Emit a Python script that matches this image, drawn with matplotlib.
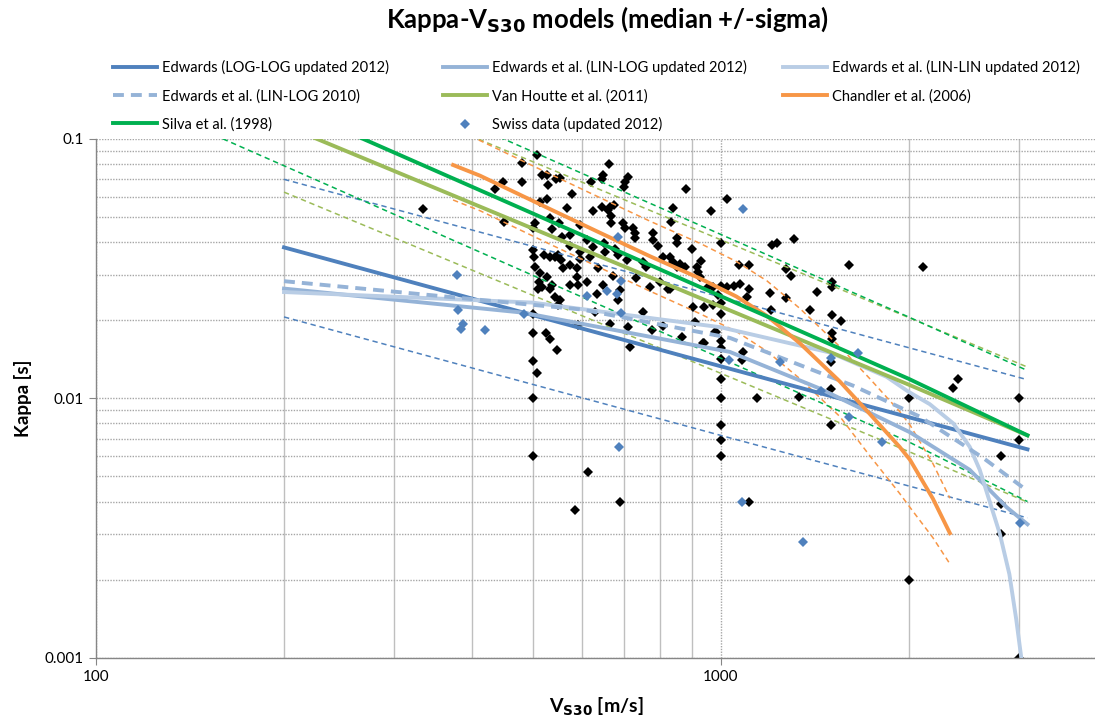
import numpy as np
import matplotlib.pyplot as plt
from matplotlib.ticker import FixedLocator, NullFormatter

plt.rcParams['font.family'] = ['Lato', 'DejaVu Sans']

# ---- model curves (Vs30 [m/s], kappa [s]) ----
# Edwards (LOG-LOG updated 2012): median, +sigma, -sigma
ll_vs = [200, 1000, 3100]
ll_med = [0.0382, 0.0133, 0.00636]
ll_up = [0.0699, 0.0246, 0.0118]
ll_lo = [0.0206, 0.0072, 0.00346]

# Edwards et al. (LIN-LOG updated 2012)
linlog12_vs = [200, 483, 1035, 1443, 2010, 2506, 2872, 3100]
linlog12_k = [0.0265, 0.0214, 0.0151, 0.0109, 0.0074, 0.0053, 0.0038, 0.00327]

# Edwards et al. (LIN-LIN updated 2012)
linlin12_vs = [200, 500, 1000, 1500, 1845, 2000, 2162, 2359, 2506, 2600, 2800, 2900, 2975, 3030]
linlin12_k = [0.0257, 0.0234, 0.0188, 0.0150, 0.0121, 0.0106, 0.0095, 0.0080, 0.0065, 0.0053,
              0.0030, 0.0021, 0.0014, 0.0010]

# Edwards et al. (LIN-LOG 2010)
linlog10_vs = [200, 600, 1035, 1629, 2085, 2631, 3100]
linlog10_k = [0.0283, 0.0220, 0.0171, 0.0112, 0.0085, 0.0059, 0.0044]

# Van Houtte et al. (2011)
vh_vs = [200, 1000, 2000, 3100]
vh_med = [0.113, 0.0226, 0.0113, 0.0072]
vh_up = [0.2045, 0.0409, 0.0205, 0.0132]
vh_lo = [0.0624, 0.0125, 0.00624, 0.00398]

# Chandler et al. (2006)
ch_vs = [373, 412, 533, 641, 771, 927, 1060, 1186, 1340, 1553, 1734, 1935, 2010, 2188, 2329]
ch_med = [0.0794, 0.0722, 0.0537, 0.0435, 0.0353, 0.0290, 0.0247, 0.0208, 0.0163, 0.0116,
          0.0087, 0.0065, 0.0058, 0.0041, 0.00302]
ch_up = [0.1084, 0.0986, 0.0733, 0.0594, 0.0482, 0.0396, 0.0337, 0.0284, 0.0222, 0.0158,
         0.0119, 0.0089, 0.0079, 0.0056, 0.00412]
ch_lo = [0.0582, 0.0529, 0.0393, 0.0319, 0.0259, 0.0212, 0.0181, 0.0152, 0.0119, 0.0085,
         0.0060, 0.0043, 0.0038, 0.0029, 0.0023]

# Silva et al. (1998)
si_vs = [150, 268, 1000, 2000, 3100]
si_med = [0.185, 0.1, 0.0248, 0.0119, 0.0072]
si_up = [0.32, 0.173, 0.0429, 0.0206, 0.0128]
si_lo = [0.107, 0.0578, 0.0143, 0.00680, 0.0040]

# ---- data points ----
swiss_vs = [379, 380, 387, 384, 419, 484, 611, 659, 683, 694, 684, 694, 687, 1087, 1030,
            1245, 1501, 1658, 1446, 1608, 1811, 1081, 1353, 3016]
swiss_k = [0.0300, 0.0219, 0.0194, 0.0185, 0.0183, 0.0211, 0.0248, 0.0259, 0.0252, 0.0214,
           0.0420, 0.0283, 0.0065, 0.0537, 0.0141, 0.0138, 0.0143, 0.0150, 0.0107, 0.0085,
           0.0068, 0.0040, 0.0028, 0.0033]

other_vs = [508, 481, 663, 448, 435, 481, 518, 527, 530, 546, 553, 648, 645, 621, 711, 703, 700,
            880, 1024, 578, 527, 514, 568, 625, 645, 666, 675, 660, 838, 965, 450, 505, 533, 551,
            500, 537, 574, 558, 596, 668, 668, 698, 703, 724, 729, 729, 780, 780, 794, 853, 853,
            833, 900, 1000, 574, 596, 611, 625, 651, 653, 678, 686, 501, 502, 505, 521, 533, 543,
            549, 555, 559, 574, 588, 596, 617, 637, 708, 751, 760, 809, 830, 839, 861, 877, 917,
            920, 853, 514, 527, 537, 574, 588, 591, 611, 648, 673, 733, 771, 927, 972, 1024, 512,
            510, 518, 533, 543, 553, 549, 501, 501, 525, 533, 547, 500, 508, 500, 634, 690, 686,
            711, 716, 751, 777, 809, 868, 830, 903, 910, 937, 972, 1000, 983, 1000, 1000, 1000,
            1000, 1000, 666, 591, 630, 955, 990, 334, 1207, 1230, 1070, 1110, 1102, 1204, 930,
            800, 824, 941, 1000, 978, 941, 1000, 1081, 1144, 1311, 1273, 1296, 1606, 2109, 1050,
            1074, 1110, 1200, 1273, 1427, 1390, 1508, 1508, 1508, 1559, 1508, 1508, 1500, 1000,
            1086, 1335, 1500, 1500, 2355, 2399, 3000, 2000, 1000, 1000, 1110, 2000, 2811, 2811,
            2811, 3000, 3000, 500, 585, 613, 690]
other_k = [0.0868, 0.0806, 0.0801, 0.0684, 0.0640, 0.0684, 0.0726, 0.0726, 0.0665, 0.0699,
           0.0705, 0.0726, 0.0699, 0.0684, 0.0715, 0.0684, 0.0654, 0.0641, 0.0587, 0.0612,
           0.0586, 0.0573, 0.0540, 0.0527, 0.0548, 0.0548, 0.0556, 0.0532, 0.0540, 0.0527,
           0.0479, 0.0473, 0.0494, 0.0473, 0.0452, 0.0448, 0.0426, 0.0420, 0.0466, 0.0504,
           0.0475, 0.0475, 0.0452, 0.0452, 0.0433, 0.0414, 0.0433, 0.0407, 0.0386, 0.0414,
           0.0396, 0.0479, 0.0378, 0.0398, 0.0386, 0.0367, 0.0407, 0.0384, 0.0396, 0.0367,
           0.0378, 0.0357, 0.0373, 0.0351, 0.0321, 0.0357, 0.0351, 0.0351, 0.0357, 0.0341,
           0.0317, 0.0326, 0.0317, 0.0346, 0.0351, 0.0317, 0.0341, 0.0336, 0.0321, 0.0351,
           0.0351, 0.0336, 0.0331, 0.0321, 0.0321, 0.0307, 0.0321, 0.0303, 0.0294, 0.0273,
           0.0273, 0.0294, 0.0273, 0.0281, 0.0273, 0.0296, 0.0290, 0.0269, 0.0294, 0.0269,
           0.0269, 0.0281, 0.0265, 0.0269, 0.0265, 0.0246, 0.0239, 0.0229, 0.0212, 0.0179,
           0.0179, 0.0170, 0.0154, 0.0139, 0.0125, 0.0100, 0.0252, 0.0261, 0.0239, 0.0189,
           0.0158, 0.0215, 0.0183, 0.0190, 0.0172, 0.0265, 0.0225, 0.0197, 0.0164, 0.0229,
           0.0212, 0.0180, 0.0167, 0.0142, 0.0119, 0.0100, 0.0079, 0.0194, 0.0191, 0.0215,
           0.0268, 0.0250, 0.0537, 0.0390, 0.0396, 0.0326, 0.0328, 0.0246, 0.0219, 0.0338,
           0.0281, 0.0264, 0.0225, 0.0271, 0.0181, 0.0164, 0.0156, 0.0140, 0.0100, 0.0410,
           0.0314, 0.0297, 0.0326, 0.0321, 0.0271, 0.0276, 0.0265, 0.0254, 0.0243, 0.0256,
           0.0219, 0.0280, 0.0269, 0.0209, 0.0198, 0.0179, 0.0169, 0.0138, 0.0234, 0.0151,
           0.0101, 0.0109, 0.0079, 0.0110, 0.0119, 0.0100, 0.0100, 0.0069, 0.0060, 0.0040,
           0.0020, 0.0060, 0.0039, 0.0030, 0.0069, 0.0010, 0.0060, 0.0037, 0.0052, 0.0040]

c_dblue = '#4F81BD'
c_mblue = '#95B3D7'
c_lblue = '#B9CDE5'
c_olive = '#9BBB59'
c_orange = '#F79646'
c_green = '#00B050'

fig = plt.figure(figsize=(10.95, 7.24), dpi=100)
ax = fig.add_axes([96 / 1095, 66.3 / 724, 1000.6 / 1095, 518.7 / 724])
ax.set_xscale('log')
ax.set_yscale('log')
ax.set_xlim(100, 4000)
ax.set_ylim(0.001, 0.1)

# other sites (black)
ax.plot(other_vs, other_k, 'D', color='black', ms=4.6, mew=0, zorder=2)

thin = dict(lw=1.1, dashes=(3.5, 2.5), zorder=3)
ax.plot(ll_vs, ll_up, color=c_dblue, **thin)
ax.plot(ll_vs, ll_lo, color=c_dblue, **thin)
ax.plot(vh_vs, vh_up, color=c_olive, **thin)
ax.plot(vh_vs, vh_lo, color=c_olive, **thin)
ax.plot(ch_vs, ch_up, color=c_orange, **thin)
ax.plot(ch_vs, ch_lo, color=c_orange, **thin)
ax.plot(si_vs, si_up, color=c_green, **thin)
ax.plot(si_vs, si_lo, color=c_green, **thin)

lw = 2.8
h1, = ax.plot(ll_vs, ll_med, color=c_dblue, lw=lw, zorder=4,
              label='Edwards (LOG-LOG updated 2012)')
h2, = ax.plot(linlog12_vs, linlog12_k, color=c_mblue, lw=lw, zorder=4,
              label='Edwards et al. (LIN-LOG updated 2012)')
h3, = ax.plot(linlin12_vs, linlin12_k, color=c_lblue, lw=lw, zorder=4,
              label='Edwards et al. (LIN-LIN updated 2012)')
h4, = ax.plot(linlog10_vs, linlog10_k, color=c_mblue, lw=lw, dashes=(2.8, 1.8), zorder=4,
              label='Edwards et al. (LIN-LOG 2010)')
h5, = ax.plot(vh_vs, vh_med, color=c_olive, lw=lw, zorder=4,
              label='Van Houtte et al. (2011)')
h6, = ax.plot(ch_vs, ch_med, color=c_orange, lw=lw, zorder=4,
              label='Chandler et al. (2006)')
h7, = ax.plot(si_vs, si_med, color=c_green, lw=lw, zorder=4,
              label='Silva et al. (1998)')
h8, = ax.plot(swiss_vs, swiss_k, 'D', color=c_dblue, ms=5.3, mew=0, zorder=5,
              label='Swiss data (updated 2012)')

# grid
ax.xaxis.set_minor_locator(FixedLocator([200, 300, 400, 500, 600, 700, 800, 900, 2000, 3000]))
ax.xaxis.set_minor_formatter(NullFormatter())
ax.yaxis.set_minor_formatter(NullFormatter())
ax.set_xticks([100, 1000])
ax.set_xticklabels(['100', '1000'])
ax.set_yticks([0.001, 0.01, 0.1])
ax.set_yticklabels(['0.001', '0.01', '0.1'])
ax.grid(axis='x', which='minor', color='#BFBFBF', lw=1.0, ls='-')
ax.grid(axis='x', which='major', color='#A6A6A6', lw=1.0, ls=(0, (1, 1)))
ax.grid(axis='y', which='both', color='#A6A6A6', lw=1.0, ls=(0, (1, 1)))
ax.set_axisbelow(True)
for s in ['top', 'right']:
    ax.spines[s].set_visible(False)
for s in ['left', 'bottom']:
    ax.spines[s].set_color('#868686')
    ax.spines[s].set_linewidth(1.0)
ax.tick_params(which='major', length=5, color='#868686', labelsize=11, pad=4)
ax.tick_params(which='minor', length=0)

ax.set_xlabel('V$_{\\mathbf{S30}}$ [m/s]', fontsize=14, fontweight='bold', labelpad=8)
ax.set_ylabel('Kappa [s]', fontsize=13.5, fontweight='bold')
ax.yaxis.set_label_coords(-0.064, 0.5)

fig.text(607 / 1095, 1 - 19 / 724, 'Kappa-V$_{\\mathbf{S30}}$ models (median +/-sigma)',
         ha='center', va='center', fontsize=18.5, fontweight='bold')

# legend, three columns laid out like the original
cols = [([h1, h4, h7], 113), ([h2, h5, h8], 443), ([h3, h6], 783)]
for hs, xp in cols:
    fig.legend(handles=hs, loc='upper left', bbox_to_anchor=(xp / 1095, 1 - 60 / 724),
               frameon=False, fontsize=10.5, handlelength=3.0, handletextpad=0.35,
               labelspacing=0.95, borderpad=0, borderaxespad=0, numpoints=1)

fig.savefig('out.png', dpi=100)
